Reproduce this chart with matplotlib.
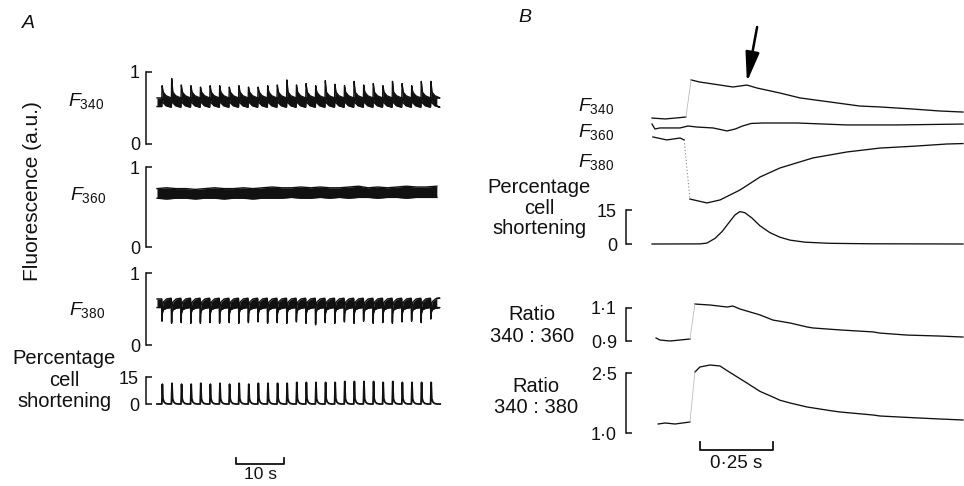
import matplotlib
matplotlib.use("Agg")
import matplotlib.pyplot as plt

plt.rcParams['font.family'] = ['Liberation Sans', 'DejaVu Sans']
plt.rcParams['mathtext.fontset'] = 'custom'
plt.rcParams['mathtext.rm'] = 'Liberation Sans'
plt.rcParams['mathtext.it'] = 'Liberation Sans:italic'

# ------------------------------------------------------------------ data
# Panel A : 0.5 Hz stimulation, ~58 s record
beat_times_A = [1, 3, 5, 7, 9, 11, 13, 15, 17, 19, 21, 23, 25, 27, 29,
                31, 33, 35, 37, 39, 41, 43, 45, 47, 49, 51, 53, 55, 57]
record_end_A = 58.3

f340_peaks_A = [0.81, 0.91, 0.82, 0.81, 0.79, 0.81, 0.81, 0.79, 0.81, 0.79,
                0.79, 0.81, 0.82, 0.89, 0.82, 0.84, 0.81, 0.88, 0.83, 0.81,
                0.87, 0.82, 0.84, 0.81, 0.87, 0.84, 0.81, 0.87, 0.87]
# key points of one F340 cycle (offset s, upper / lower envelope)
f340_cycle_t = [0.0, 0.06, 0.3, 0.9, 1.94]
f340_cycle_upper = [0.64, None, 0.72, 0.67, 0.64]
f340_cycle_lower = [0.52, 0.64, 0.57, 0.53, 0.51]

f360_times_A = [0, 2, 4, 6, 8, 10, 12, 14, 16, 18, 20, 22, 24, 26, 28,
                30, 32, 34, 36, 38, 40, 42, 44, 46, 48, 50, 52, 54, 56, 58.3]
f360_upper_A = [0.73, 0.74, 0.73, 0.73, 0.72, 0.73, 0.74, 0.73, 0.73, 0.74,
                0.73, 0.74, 0.75, 0.74, 0.74, 0.75, 0.74, 0.75, 0.74, 0.74,
                0.75, 0.76, 0.74, 0.75, 0.74, 0.75, 0.76, 0.75, 0.75, 0.76]
f360_lower_A = [0.61, 0.60, 0.61, 0.61, 0.60, 0.61, 0.61, 0.60, 0.61, 0.61,
                0.60, 0.61, 0.61, 0.61, 0.62, 0.61, 0.61, 0.62, 0.61, 0.62,
                0.61, 0.62, 0.62, 0.61, 0.62, 0.62, 0.61, 0.62, 0.62, 0.62]

f380_dips_A = [0.33, 0.30, 0.31, 0.30, 0.30, 0.31, 0.30, 0.31, 0.30, 0.31,
               0.32, 0.30, 0.31, 0.30, 0.32, 0.30, 0.28, 0.31, 0.30, 0.32,
               0.30, 0.33, 0.30, 0.31, 0.30, 0.32, 0.33, 0.31, 0.36]
f380_cycle_t = [0.0, 0.04, 0.1, 0.35, 1.0, 1.94]
f380_cycle_upper = [0.64, None, 0.53, 0.60, 0.64, 0.65]
f380_cycle_lower = [0.52, None, 0.44, 0.49, 0.51, 0.52]

short_peaks_A = [11.0, 11.5, 11.0, 11.0, 11.5, 11.0, 11.5, 11.0, 11.5, 11.0,
                 11.5, 11.5, 11.5, 11.5, 12.0, 12.0, 12.0, 12.0, 12.0, 12.5,
                 12.5, 12.5, 12.5, 12.0, 12.5, 12.0, 12.0, 12.0, 12.0]
short_cycle_t = [0.0, 0.12, 0.25, 0.45, 0.8, 1.3]
short_cycle_v = [0.0, None, 3.0, 1.2, 0.3, 0.0]
short_end_A = 59.0

# Panel B : single transient (time in s, fluorescence in a.u.)
f340_pre_t = [0.000, 0.045, 0.080, 0.116]
f340_pre_v = [0.613, 0.607, 0.613, 0.620]
f340_post_t = [0.134, 0.164, 0.209, 0.277, 0.325, 0.360, 0.438, 0.507,
               0.610, 0.712, 0.781, 0.894, 0.986, 1.065]
f340_post_v = [0.867, 0.853, 0.840, 0.820, 0.833, 0.813, 0.780, 0.747,
               0.720, 0.693, 0.687, 0.673, 0.660, 0.653]

f360_B_t = [0.000, 0.010, 0.027, 0.096, 0.123, 0.154, 0.209, 0.257, 0.285,
            0.310, 0.340, 0.380, 0.497, 0.668, 0.839, 1.065]
f360_B_v = [0.573, 0.540, 0.547, 0.547, 0.560, 0.553, 0.547, 0.527, 0.540,
            0.560, 0.577, 0.580, 0.580, 0.567, 0.567, 0.573]

f380_pre_t = [0.003, 0.051, 0.096, 0.110]
f380_pre_v = [0.487, 0.467, 0.480, 0.467]
f380_post_t = [0.130, 0.188, 0.233, 0.301, 0.370, 0.438, 0.551, 0.668,
               0.781, 0.894, 1.010, 1.065]
f380_post_v = [0.073, 0.047, 0.067, 0.133, 0.220, 0.280, 0.347, 0.387,
               0.413, 0.425, 0.440, 0.443]

short_B_t = [0.000, 0.164, 0.188, 0.216, 0.240, 0.267, 0.284, 0.301, 0.318,
             0.342, 0.370, 0.404, 0.438, 0.473, 0.524, 0.610, 0.747, 1.065]
short_B_v = [0.0, 0.05, 0.4, 2.5, 5.5, 10.0, 12.8, 14.3, 13.8, 11.5, 8.0,
             5.0, 3.0, 1.7, 0.8, 0.3, 0.1, 0.0]

r360_pre_t = [0.014, 0.027, 0.062, 0.096, 0.130]
r360_pre_v = [0.918, 0.906, 0.900, 0.906, 0.912]
r360_post_t = [0.147, 0.199, 0.257, 0.277, 0.301, 0.370, 0.414, 0.473,
               0.531, 0.551, 0.644, 0.757, 0.781, 0.873, 0.986, 1.065]
r360_post_v = [1.124, 1.118, 1.106, 1.112, 1.094, 1.058, 1.027, 1.009,
               0.985, 0.979, 0.967, 0.955, 0.948, 0.936, 0.930, 0.924]

r380_pre_t = [0.021, 0.045, 0.079, 0.130]
r380_pre_v = [1.225, 1.250, 1.225, 1.275]
r380_post_t = [0.147, 0.164, 0.199, 0.233, 0.257, 0.325, 0.370, 0.414,
               0.438, 0.473, 0.531, 0.610, 0.644, 0.757, 0.781, 0.873,
               0.986, 1.065]
r380_post_v = [2.525, 2.650, 2.700, 2.675, 2.560, 2.250, 2.040, 1.900,
               1.820, 1.750, 1.650, 1.560, 1.525, 1.450, 1.425, 1.390,
               1.350, 1.325]

# ------------------------------------------------------------------ helpers
W, H = 964, 486
fig = plt.figure(figsize=(W / 100, H / 100), dpi=100)
INK = '#111111'
LW_B = 0.95


def px_axes(x0, x1, y_hi, y_lo, xlim, ylim):
    ax = fig.add_axes([x0 / W, 1 - y_lo / H, (x1 - x0) / W, (y_lo - y_hi) / H])
    ax.set_xlim(*xlim)
    ax.set_ylim(*ylim)
    ax.patch.set_visible(False)
    for s in ['top', 'right', 'bottom']:
        ax.spines[s].set_visible(False)
    ax.set_xticks([])
    return ax


def bracket(ax, lo, hi, labels, outward_px, pad_px, size=13):
    sp = ax.spines['left']
    sp.set_position(('outward', outward_px * 0.72))
    sp.set_bounds(lo, hi)
    sp.set_linewidth(1.1)
    sp.set_color(INK)
    ax.set_yticks([lo, hi])
    ax.set_yticklabels(labels)
    ax.tick_params(axis='y', direction='in', length=4.5, width=1.1,
                   labelsize=size, pad=pad_px * 0.72, colors=INK)


def no_axis(ax):
    ax.spines['left'].set_visible(False)
    ax.set_yticks([])


def build(beats, cyc_t, cyc_v, special, end_t, end_v):
    ts, vs = [0.0], [cyc_v[0]]
    for b, sv in zip(beats, special):
        for o, v in zip(cyc_t, cyc_v):
            ts.append(b + o)
            vs.append(sv if v is None else v)
    ts.append(end_t)
    vs.append(end_v)
    return ts, vs


def ftext(x, y, s, **kw):
    fig.text(x / W, 1 - y / H, s, **kw)


# ------------------------------------------------------------------ panel A
A_x0, A_x1 = 157, 437
A_xlim = (0, (A_x1 - A_x0) / 4.8)

ax1 = px_axes(A_x0, A_x1, 72, 144, A_xlim, (0, 1))
bracket(ax1, 0, 1, ['0', '1'], 11, 6)
t_u, v_u = build(beat_times_A, f340_cycle_t, f340_cycle_upper, f340_peaks_A, record_end_A, 0.64)
t_l, v_l = build(beat_times_A, f340_cycle_t, f340_cycle_lower, [0.64] * len(beat_times_A), record_end_A, 0.53)
ax1.fill_between(t_u, v_l, v_u, color=INK, lw=0, clip_on=False)
ax1.plot(t_u, v_u, color=INK, lw=1.0, clip_on=False)
ax1.plot(t_l, v_l, color=INK, lw=1.0, clip_on=False)

ax2 = px_axes(A_x0, A_x1, 167, 247, A_xlim, (0, 1))
bracket(ax2, 0, 1, ['0', '1'], 11, 6)
ax2.fill_between(f360_times_A, f360_lower_A, f360_upper_A, color=INK, lw=0, clip_on=False)
ax2.plot(f360_times_A, f360_upper_A, color=INK, lw=1.0, clip_on=False)
ax2.plot(f360_times_A, f360_lower_A, color=INK, lw=1.0, clip_on=False)

ax3 = px_axes(A_x0, A_x1, 273, 345, A_xlim, (0, 1))
bracket(ax3, 0, 1, ['0', '1'], 11, 6)
t_u, v_u = build(beat_times_A, f380_cycle_t, f380_cycle_upper, [d + 0.02 for d in f380_dips_A], record_end_A, 0.65)
t_l, v_l = build(beat_times_A, f380_cycle_t, f380_cycle_lower, f380_dips_A, record_end_A, 0.52)
ax3.fill_between(t_u, v_l, v_u, color=INK, lw=0, clip_on=False)
ax3.plot(t_u, v_u, color=INK, lw=1.0, clip_on=False)
ax3.plot(t_l, v_l, color=INK, lw=1.0, clip_on=False)

ax4 = px_axes(A_x0, A_x1, 377, 404, A_xlim, (0, 15))
bracket(ax4, 0, 15, ['0', '15'], 11, 7)
t_s, v_s = build(beat_times_A, short_cycle_t, short_cycle_v, short_peaks_A, short_end_A, 0.0)
ax4.plot(t_s, v_s, color=INK, lw=1.3, clip_on=False)

# 10 s scale bar
ax4.plot([16.5, 16.5, 26.5, 26.5], [-30.0, -33.3, -33.3, -30.0], color=INK, lw=1.3, clip_on=False)
ax4.text(21.5, -35.0, '10 s', ha='center', va='top', fontsize=12.5, color=INK, clip_on=False)

ftext(22, 23, 'A', style='italic', fontsize=14, ha='left', va='center', color=INK)
ftext(33, 191, 'Fluorescence (a.u.)', rotation=90, ha='center', va='center', fontsize=15, color=INK)
ftext(104, 101, r'$\mathit{F}_{340}$', ha='right', va='center', fontsize=14, color=INK)
ftext(106, 195, r'$\mathit{F}_{360}$', ha='right', va='center', fontsize=14, color=INK)
ftext(105, 310, r'$\mathit{F}_{380}$', ha='right', va='center', fontsize=14, color=INK)
ftext(64, 380, 'Percentage\ncell\nshortening', ha='center', va='center',
      multialignment='center', fontsize=14.5, linespacing=1.15, color=INK)

# ------------------------------------------------------------------ panel B
B_x0, B_x1 = 652, 963
B_xlim = (0, (B_x1 - B_x0) / 292.0)

axF = px_axes(B_x0, B_x1, 60, 210, B_xlim, (0, 1))
no_axis(axF)
for tt, vv in [(f340_pre_t, f340_pre_v), (f340_post_t, f340_post_v),
               (f360_B_t, f360_B_v), (f380_pre_t, f380_pre_v), (f380_post_t, f380_post_v)]:
    axF.plot(tt, vv, color=INK, lw=LW_B, clip_on=False)
axF.plot([f340_pre_t[-1], f340_post_t[0]], [f340_pre_v[-1], f340_post_v[0]],
         color='#bbbbbb', lw=0.6, clip_on=False)
axF.plot([f380_pre_t[-1], f380_post_t[0]], [f380_pre_v[-1], f380_post_v[0]],
         color='#888888', lw=0.8, ls=(0, (1, 2)), clip_on=False)
axF.annotate('', xy=(0.325, 0.853), xytext=(0.360, 1.22),
             arrowprops=dict(arrowstyle='-|>,head_length=1.8,head_width=0.42',
                             lw=1.8, color='black', shrinkA=0, shrinkB=0),
             annotation_clip=False)

axS = px_axes(B_x0, B_x1, 210, 244, B_xlim, (0, 15))
bracket(axS, 0, 15, ['0', '15'], 26, 9)
axS.plot(short_B_t, short_B_v, color=INK, lw=LW_B, clip_on=False)

axR1 = px_axes(B_x0, B_x1, 308, 341, B_xlim, (0.9, 1.1))
bracket(axR1, 0.9, 1.1, ['0·9', '1·1'], 26, 9)
axR1.plot(r360_pre_t, r360_pre_v, color=INK, lw=LW_B, clip_on=False)
axR1.plot(r360_post_t, r360_post_v, color=INK, lw=LW_B, clip_on=False)
axR1.plot([r360_pre_t[-1], r360_post_t[0]], [r360_pre_v[-1], r360_post_v[0]],
          color='#bbbbbb', lw=0.6, clip_on=False)

axR2 = px_axes(B_x0, B_x1, 373, 433, B_xlim, (1.0, 2.5))
bracket(axR2, 1.0, 2.5, ['1·0', '2·5'], 26, 9)
axR2.plot(r380_pre_t, r380_pre_v, color=INK, lw=LW_B, clip_on=False)
axR2.plot(r380_post_t, r380_post_v, color=INK, lw=LW_B, clip_on=False)
axR2.plot([r380_pre_t[-1], r380_post_t[0]], [r380_pre_v[-1], r380_post_v[0]],
          color='#bbbbbb', lw=0.6, clip_on=False)

# 0.25 s scale bar
axR2.plot([0.164, 0.164, 0.414, 0.414], [0.775, 0.575, 0.575, 0.775], color=INK, lw=1.3, clip_on=False)
axR2.text(0.289, 0.45, '0·25 s', ha='center', va='top', fontsize=13.5, color=INK, clip_on=False)

ftext(518, 18, 'B', style='italic', fontsize=14, ha='left', va='center', color=INK)
ftext(614, 106, r'$\mathit{F}_{340}$', ha='right', va='center', fontsize=14, color=INK)
ftext(614, 132, r'$\mathit{F}_{360}$', ha='right', va='center', fontsize=14, color=INK)
ftext(614, 162, r'$\mathit{F}_{380}$', ha='right', va='center', fontsize=14, color=INK)
ftext(539, 208, 'Percentage\ncell\nshortening', ha='center', va='center',
      multialignment='center', fontsize=14.5, linespacing=1.12, color=INK)
ftext(532, 325, 'Ratio\n340 : 360', ha='center', va='center',
      multialignment='center', fontsize=14.5, linespacing=1.2, color=INK)
ftext(536, 397, 'Ratio\n340 : 380', ha='center', va='center',
      multialignment='center', fontsize=14.5, linespacing=1.15, color=INK)

fig.savefig('out.png', dpi=100)
